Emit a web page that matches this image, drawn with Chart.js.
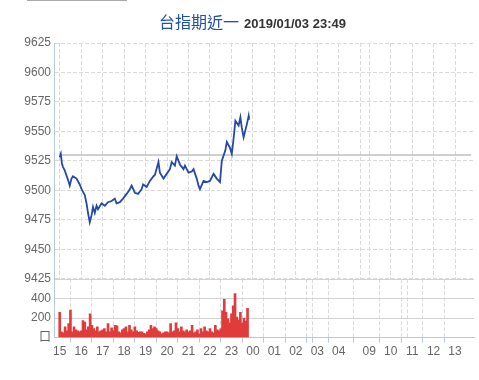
<!DOCTYPE html>
<html>
<head>
<meta charset="utf-8">
<script src="https://cdn.jsdelivr.net/npm/chart.js@4.4.1/dist/chart.umd.min.js"></script>
<style>
  body { margin: 0; background: #fff; }
  #wrap { position: relative; width: 479px; height: 380px; overflow: hidden; font-family: "Liberation Sans", Arial, sans-serif; }
  #topbar { position: absolute; left: 27px; top: 0; width: 100px; height: 1px; background: #a9a9a9; }
  #title { position: absolute; left: 159px; top: 11px; white-space: nowrap; line-height: 20px; z-index: 2; }
  #title .name { font-family: "Noto Sans CJK TC", sans-serif; font-size: 16px; color: #1f52a5; }
  #title .time { font-size: 13px; font-weight: bold; color: #333; margin-left: 5px; }
  #price { position: absolute; left: 0; top: 0; }
  #vol { position: absolute; left: 0; top: 269px; }
</style>
</head>
<body>
<div id="wrap">
  <div id="topbar"></div>
  <div id="title"><span class="name"></span><span class="time"></span></div>
  <canvas id="price" width="479" height="289"></canvas>
  <canvas id="vol" width="479" height="92"></canvas>
</div>
<script>
// title
const titleName = "台指期近一";
const titleTime = "2019/01/03 23:49";

// price line (night session)
const prevClose = 9530;
const priceTimes = ["15:00","15:03","15:06","15:09","15:14","15:22","15:28","15:33","15:37","15:42","15:47","15:56",
  "16:01","16:10","16:15","16:19","16:24","16:29","16:33","16:38","16:43","16:47","16:57",
  "17:06","17:15","17:25","17:34","17:39","17:48","17:57",
  "18:07","18:16","18:21","18:30","18:39","18:49","18:53",
  "19:03","19:12","19:22","19:26","19:36","19:40","19:50","19:59",
  "20:08","20:13","20:22","20:27","20:36","20:46","20:50",
  "21:00","21:09","21:14","21:23","21:28","21:32","21:42","21:51",
  "22:00","22:10","22:19","22:28","22:33","22:43","22:47","22:56",
  "23:01","23:06","23:11","23:20","23:25","23:29","23:34","23:43","23:48","23:49"];
const prices = [9528,9531,9523,9520,9517,9510,9504,9510,9512,9511,9510,9505,
  9501,9496,9489,9481,9473,9479,9486,9481,9487,9484,9489,
  9487,9490,9491,9493,9489,9490,9493,
  9497,9501,9504,9498,9497,9501,9505,
  9503,9508,9512,9513,9524,9515,9510,9514,
  9518,9524,9521,9529,9522,9518,9521,
  9515,9516,9518,9510,9504,9501,9508,9507,
  9508,9514,9510,9507,9525,9534,9541,9536,
  9531,9544,9559,9555,9562,9553,9545,9556,9563,9560];

// volume, one bar per 5 minutes from 15:00
const volStart = "15:00";
const volStep = 5;
const volumes = [
  260,60,50,110,70,143,283,60,110,80,70,60,
  70,176,160,80,110,243,126,93,70,110,60,70,
  80,93,60,143,60,100,70,126,120,60,50,80,
  93,110,60,126,80,60,110,70,53,60,60,43,
  40,60,80,126,93,110,93,70,60,40,50,60,
  60,50,143,60,70,153,93,60,110,70,60,80,
  60,70,126,50,60,80,40,93,60,110,70,60,
  93,60,50,126,80,70,90,276,393,260,193,150,
  243,326,453,210,180,260,150,200,170,300];

// axes
const xTickTimes = ["15:00","16:00","17:00","18:00","19:00","20:00","21:00","22:00","23:00",
  "00:00","01:00","02:00","03:00","04:00","09:00","10:00","11:00","12:00","13:00"];
const xTickLabels = ["15","16","17","18","19","20","21","22","23","00","01","02","03","04","09","10","11","12","13"];
const sessionBreak = "05:00";
const sessionEnd = "13:45";
const priceTicks = [9425,9450,9475,9500,9525,9550,9575,9600,9625];
const volTicks = [0,200,400,600];

document.querySelector("#title .name").textContent = titleName;
document.querySelector("#title .time").textContent = titleTime;

// minutes since 15:00, day session shifted after the overnight break
function toIndex(t) {
  const [h, m] = t.split(":").map(Number);
  if (h >= 15) return (h - 15) * 60 + m;
  if (h <= 5) return (h + 9) * 60 + m;
  return 865 + (h - 9) * 60 + m;
}

const xMin = -16, xMax = 1158;
const breakPos = toIndex(sessionBreak);
const gridPos = xTickTimes.map(toIndex).concat([breakPos]);
const labelMap = {};
xTickTimes.forEach((t, i) => { labelMap[toIndex(t)] = xTickLabels[i]; });

const font = { family: "'Liberation Sans', 'Noto Sans CJK TC', sans-serif", size: 12 };
const axisBlue = "#b7cadd";
const gridGray = "#dadada";

function xScale(showLabels) {
  return {
    type: "linear",
    min: xMin,
    max: xMax,
    offset: false,
    afterBuildTicks: s => { s.ticks = gridPos.map(v => ({ value: v })); },
    grid: {
      color: gridGray,
      drawTicks: showLabels,
      tickLength: 5,
      tickWidth: 1,
      tickColor: c => (c.tick && c.tick.value === breakPos) ? "rgba(0,0,0,0)" : axisBlue
    },
    border: { display: showLabels, color: axisBlue, dash: [4, 2] },
    ticks: {
      display: showLabels,
      autoSkip: false,
      maxRotation: 0,
      padding: 2,
      color: "#666",
      font: font,
      callback: v => labelMap[v] || ""
    }
  };
}

new Chart(document.getElementById("price"), {
  type: "line",
  data: {
    datasets: [
      {
        data: priceTimes.map((t, i) => ({ x: toIndex(t), y: prices[i] })),
        borderColor: "#2449a6",
        borderWidth: 1.8,
        pointRadius: 0,
        tension: 0
      },
      {
        data: [{ x: toIndex("15:00"), y: prevClose }, { x: toIndex(sessionEnd), y: prevClose }],
        borderColor: "#a0a0a0",
        borderWidth: 1,
        pointRadius: 0
      }
    ]
  },
  options: {
    responsive: false,
    animation: false,
    layout: { padding: { top: 43, right: 5, left: 0, bottom: 0 } },
    plugins: { legend: { display: false }, tooltip: { enabled: false } },
    scales: {
      x: xScale(false),
      y: {
        min: 9425,
        max: 9625,
        afterBuildTicks: s => { s.ticks = priceTicks.map(v => ({ value: v })); },
        afterFit: s => { s.width = 54; },
        grid: { color: gridGray, drawTicks: false },
        border: { color: axisBlue, dash: [4, 2] },
        ticks: { padding: 3, color: "#666", font: font, callback: v => String(v) }
      }
    }
  }
});

new Chart(document.getElementById("vol"), {
  type: "bar",
  data: {
    datasets: [{
      data: volumes.map((v, i) => ({ x: toIndex(volStart) + i * volStep, y: v })),
      backgroundColor: "#e03c3c",
      borderWidth: 0,
      barThickness: 2
    }]
  },
  options: {
    responsive: false,
    animation: false,
    layout: { padding: { top: 0, right: 5, left: 0, bottom: 0 } },
    plugins: { legend: { display: false }, tooltip: { enabled: false } },
    scales: {
      x: xScale(true),
      y: {
        min: 0,
        max: 600,
        afterBuildTicks: s => { s.ticks = volTicks.map(v => ({ value: v })); },
        afterFit: s => { s.width = 54; },
        grid: { color: "#d2d2d2", drawTicks: false },
        border: { color: axisBlue },
        ticks: {
          padding: 3,
          color: "#666",
          font: font,
          callback: v => v === 0 ? "口" : (v === 600 ? "" : String(v))
        }
      }
    }
  }
});
</script>
</body>
</html>
